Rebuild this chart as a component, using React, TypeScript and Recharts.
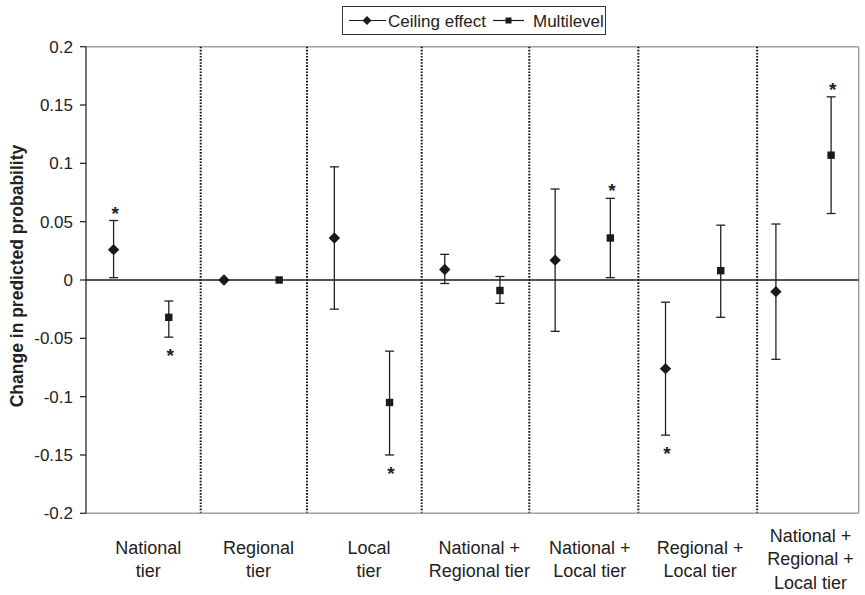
import React from "react";
import {
  ComposedChart,
  Scatter,
  XAxis,
  YAxis,
  ErrorBar,
  ReferenceLine,
  Legend,
  Label,
} from "recharts";

// ---- data ----
const categoryLines: string[][] = [
  ["National", "tier"],
  ["Regional", "tier"],
  ["Local", "tier"],
  ["National +", "Regional tier"],
  ["National +", "Local tier"],
  ["Regional +", "Local tier"],
  ["National +", "Regional +", "Local tier"],
];

const ceilingEst = [0.026, 0, 0.036, 0.009, 0.017, -0.076, -0.01];
const ceilingLow = [0.002, 0, -0.025, -0.003, -0.044, -0.133, -0.068];
const ceilingHigh = [0.051, 0, 0.097, 0.022, 0.078, -0.019, 0.048];
const ceilingSig = [true, false, false, false, false, true, false];

const multiEst = [-0.032, 0, -0.105, -0.009, 0.036, 0.008, 0.107];
const multiLow = [-0.049, 0, -0.15, -0.02, 0.002, -0.032, 0.057];
const multiHigh = [-0.018, 0, -0.061, 0.003, 0.07, 0.047, 0.157];
const multiSig = [true, false, true, false, true, false, true];

const yTicks = [-0.2, -0.15, -0.1, -0.05, 0, 0.05, 0.1, 0.15, 0.2];
const dividers = [1.039, 2.002, 3.041, 4.016, 5.004, 6.08];

// ---- derived tables ----
const buildSeries = (est: number[], low: number[], high: number[], shift: number) =>
  est.map((v, i) => ({
    x: i + shift,
    y: v,
    err: low[i] === v && high[i] === v ? null : [v - low[i], high[i] - v],
  }));

const buildStars = (
  est: number[],
  low: number[],
  high: number[],
  sig: boolean[],
  shift: number
) =>
  est
    .map((v, i) => ({ i, v }))
    .filter((d) => sig[d.i])
    .map((d) => ({
      x: d.i + shift,
      y: d.v > 0 ? high[d.i] : low[d.i],
      dir: d.v > 0 ? 1 : -1,
    }));

const ceilingData = buildSeries(ceilingEst, ceilingLow, ceilingHigh, 0.25);
const multiData = buildSeries(multiEst, multiLow, multiHigh, 0.75);
const starData = [
  ...buildStars(ceilingEst, ceilingLow, ceilingHigh, ceilingSig, 0.25),
  ...buildStars(multiEst, multiLow, multiHigh, multiSig, 0.75),
];
const xTicks = categoryLines.map((_, i) => i + 0.5);

const FONT = "'Liberation Sans', Arial, Helvetica, sans-serif";
const INK = "#1a1a1a";

const Diamond = ({ cx, cy, r = 5.7 }: any) => (
  <polygon
    points={`${cx},${cy - r} ${cx + r},${cy} ${cx},${cy + r} ${cx - r},${cy}`}
    fill={INK}
  />
);
const Square = ({ cx, cy, r = 3.7 }: any) => (
  <rect x={cx - r} y={cy - r} width={2 * r} height={2 * r} fill={INK} />
);

const StarShape = (props: any) => {
  const { cx, cy, payload } = props;
  const center = payload.dir > 0 ? cy - 12 : cy + 14;
  return (
    <text
      x={cx + 1.5}
      y={center + 11}
      textAnchor="middle"
      fontSize={19}
      fontWeight="bold"
      fontFamily={FONT}
      fill="#222"
    >
      *
    </text>
  );
};

const XTick = (props: any) => {
  const { x, y, payload } = props;
  const idx = Math.round(payload.value - 0.5);
  const lines = categoryLines[idx] || [];
  const n = lines.length;
  const lh = 23.4;
  const c = y + 45.7;
  return (
    <g>
      {lines.map((l, k) => (
        <text
          key={k}
          x={x + 7}
          y={c + (k - (n - 1) / 2) * lh}
          dy="0.35em"
          textAnchor="middle"
          fontSize={18}
          fontFamily={FONT}
          fill="#222"
        >
          {l}
        </text>
      ))}
    </g>
  );
};

const LegendBox = () => (
  <svg width={265} height={30} style={{ display: "block" }}>
    <rect x={0.5} y={0.5} width={263} height={28} fill="#fff" stroke="#333" strokeWidth={1} />
    <line x1={7} x2={44} y1={14.5} y2={14.5} stroke={INK} strokeWidth={1.2} />
    <Diamond cx={25} cy={14.5} r={4.5} />
    <text x={46} y={20.5} fontSize={17} fontFamily={FONT} fill="#222">
      Ceiling effect
    </text>
    <line x1={151} x2={182} y1={14.5} y2={14.5} stroke={INK} strokeWidth={1.2} />
    <Square cx={166.5} cy={14.5} r={3} />
    <text x={191} y={20.5} fontSize={17} fontFamily={FONT} fill="#222">
      Multilevel
    </text>
  </svg>
);

const YTitle = () => (
  <text
    x={16.5}
    y={276}
    transform="rotate(-90 16.5 276)"
    textAnchor="middle"
    dominantBaseline="central"
    fontSize={17.5}
    fontWeight="bold"
    fontFamily={FONT}
    fill="#222"
  >
    Change in predicted probability
  </text>
);

export default function App() {
  return (
    <div style={{ position: "absolute", left: 0, top: 0, background: "#fff" }}>
      <ComposedChart
        width={865}
        height={595}
        margin={{ top: 46.7, right: 6.3, left: 0, bottom: 21.7 }}
        style={{ fontFamily: FONT }}
      >
        <XAxis
          type="number"
          dataKey="x"
          domain={[0, 7]}
          ticks={xTicks}
          interval={0}
          allowDataOverflow
          height={60}
          axisLine={{ stroke: "#a0a0a0", strokeWidth: 1.5 }}
          tickLine={false}
          tickSize={0}
          tickMargin={0}
          tick={<XTick />}
        />
        <YAxis
          type="number"
          dataKey="y"
          domain={[-0.2, 0.2]}
          ticks={yTicks}
          interval={0}
          allowDataOverflow
          width={86}
          axisLine={{ stroke: INK, strokeWidth: 1.2 }}
          tickLine={{ stroke: INK, strokeWidth: 1.2 }}
          tickSize={6}
          tickMargin={7}
          tick={{ fontSize: 17, fill: "#222", fontFamily: FONT }}
        >
          <Label content={<YTitle />} />
        </YAxis>
        <ReferenceLine y={0.2} stroke="#a0a0a0" strokeWidth={1.5} />
        <ReferenceLine x={7} stroke="#a0a0a0" strokeWidth={1.5} />
        {dividers.map((d) => (
          <ReferenceLine
            key={d}
            x={d}
            stroke="#111"
            strokeWidth={2}
            strokeDasharray="1.6 1.5"
          />
        ))}
        <ReferenceLine y={0} stroke={INK} strokeWidth={1.3} />
        <Scatter
          name="Ceiling effect"
          data={ceilingData}
          isAnimationActive={false}
          shape={(p: any) => <Diamond cx={p.cx} cy={p.cy} />}
        >
          <ErrorBar dataKey="err" direction="y" width={4.5} stroke="#222" strokeWidth={1.3} />
        </Scatter>
        <Scatter
          name="Multilevel"
          data={multiData}
          isAnimationActive={false}
          shape={(p: any) => <Square cx={p.cx} cy={p.cy} />}
        >
          <ErrorBar dataKey="err" direction="y" width={4.5} stroke="#222" strokeWidth={1.3} />
        </Scatter>
        <Scatter
          name="sig"
          data={starData}
          isAnimationActive={false}
          legendType="none"
          shape={<StarShape />}
        />
        <Legend
          layout="horizontal"
          verticalAlign="middle"
          align="center"
          content={<LegendBox />}
          wrapperStyle={{ left: 342, top: 6, width: 265, height: 30 }}
        />
      </ComposedChart>
    </div>
  );
}
